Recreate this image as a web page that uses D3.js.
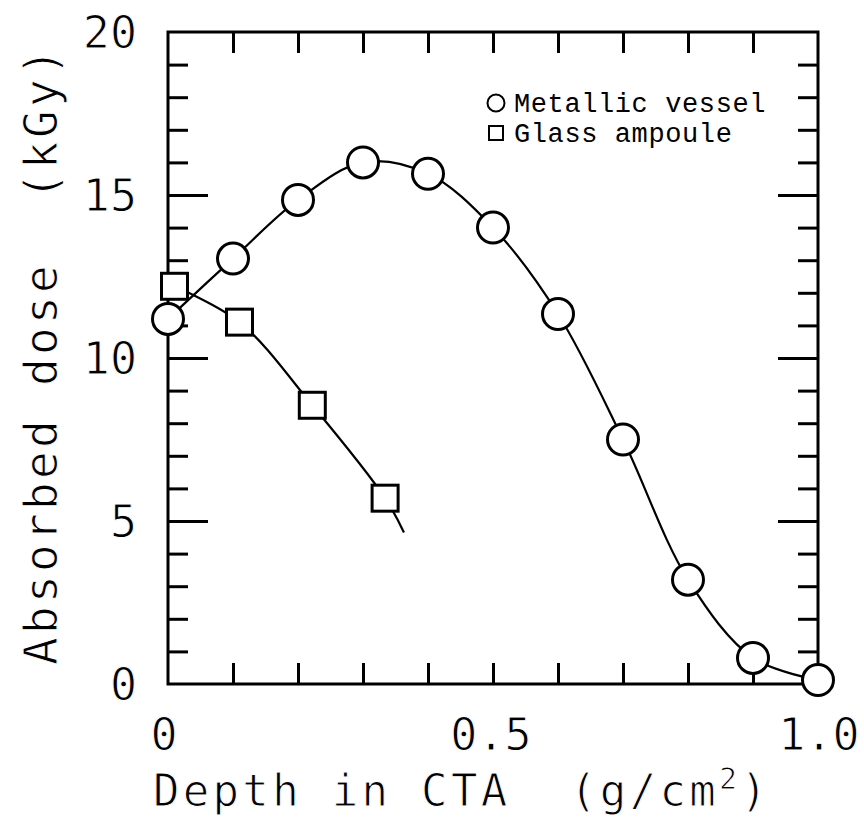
<!DOCTYPE html>
<html><head><meta charset="utf-8">
<script src="https://cdn.jsdelivr.net/npm/d3@7"></script>
<style>body{margin:0;background:#fff;}svg{display:block;}</style>
</head><body>
<svg id="chart" width="864" height="826"></svg>
<script>
// ---- data ----
const metalDepth = [0, 0.1, 0.2, 0.3, 0.4, 0.5, 0.6, 0.7, 0.8, 0.9, 1.0];
const metalDose  = [11.2, 13.05, 14.85, 16.0, 15.65, 14.0, 11.35, 7.5, 3.2, 0.8, 0.12];
const glassDepth = [0.01, 0.11, 0.222, 0.334];
const glassDose  = [12.2, 11.1, 8.55, 5.7];
// fitted curve for the glass ampoule extends slightly beyond the last point
const glassCurveDepth = [0.01, 0.11, 0.222, 0.334, 0.363];
const glassCurveDose  = [12.2, 11.1, 8.55, 5.7, 4.65];
const xTickLabels = [{v:0, t:"0"}, {v:0.5, t:"0.5"}, {v:1.0, t:"1.0"}];
const yTickLabels = [0, 5, 10, 15, 20];
const legendItems = ["Metallic vessel", "Glass ampoule"];

const svg = d3.select("#chart");
const L = 168, R = 818, T = 32, B = 684;
const x = d3.scaleLinear().domain([0, 1]).range([L, R]);
const y = d3.scaleLinear().domain([0, 20]).range([B, T]);

const mono = "'DejaVu Sans Mono', monospace";
const axW = 3;
const thin = sel => sel.attr("stroke", "#fff").attr("stroke-width", 1.0).attr("paint-order", "normal");

// ticks
const minorX = d3.range(1, 10).map(i => i / 10);
const minorY = d3.range(1, 20).filter(v => v % 5 !== 0);
const majorY = [5, 10, 15];

function styleAxis(g){
  g.select(".domain").remove();
  g.selectAll(".tick text").remove();
  g.selectAll(".tick line").attr("stroke", "#000").attr("stroke-width", axW);
}
svg.append("g").attr("transform", `translate(0,${B})`)
  .call(d3.axisBottom(x).tickValues(minorX).tickSize(-21)).call(styleAxis);
svg.append("g").attr("transform", `translate(0,${T})`)
  .call(d3.axisTop(x).tickValues(minorX).tickSize(-21)).call(styleAxis);
svg.append("g").attr("transform", `translate(${L},0)`)
  .call(d3.axisLeft(y).tickValues(minorY).tickSize(-20)).call(styleAxis);
svg.append("g").attr("transform", `translate(${L},0)`)
  .call(d3.axisLeft(y).tickValues(majorY).tickSize(-40)).call(styleAxis);
svg.append("g").attr("transform", `translate(${R},0)`)
  .call(d3.axisRight(y).tickValues(minorY).tickSize(-20)).call(styleAxis);
svg.append("g").attr("transform", `translate(${R},0)`)
  .call(d3.axisRight(y).tickValues(majorY).tickSize(-40)).call(styleAxis);

// frame
svg.append("rect").attr("x", L).attr("y", T).attr("width", R - L).attr("height", B - T)
  .attr("fill", "none").attr("stroke", "#000").attr("stroke-width", axW);

// tick labels
svg.append("g").selectAll("text").data(yTickLabels).join("text")
  .attr("x", 137).attr("y", d => y(d)).attr("dy", "0.36em")
  .attr("text-anchor", "end").attr("font-family", mono).attr("font-size", 45)
  .call(thin)
  .text(d => d);
svg.append("g").selectAll("text").data(xTickLabels).join("text")
  .attr("x", d => x(d.v) - (d.v === 0 ? 4 : (d.v === 1 ? -1 : 2))).attr("y", 750)
  .attr("text-anchor", "middle").attr("font-family", mono).attr("font-size", 45)
  .call(thin)
  .text(d => d.t);

// axis titles
const xt = svg.append("text").attr("x", 153).attr("y", 806)
  .attr("font-family", mono).attr("font-size", 44).attr("letter-spacing", 3.3)
  .attr("xml:space", "preserve").call(thin);
xt.append("tspan").text("Depth in CTA  (g/cm");
xt.append("tspan").attr("font-size", 30).attr("dy", -17).text("2");
xt.append("tspan").attr("dy", 17).text(")");

svg.append("text").attr("transform", "translate(57,355) rotate(-90)")
  .attr("text-anchor", "middle").attr("font-family", mono).attr("font-size", 46)
  .attr("letter-spacing", 3.3).attr("xml:space", "preserve").call(thin)
  .text("Absorbed dose  (kGy)");

// curves
const line = d3.line().x(d => x(d[0])).y(d => y(d[1])).curve(d3.curveCatmullRom.alpha(0.5));
svg.append("path").datum(d3.zip(metalDepth, metalDose)).attr("d", line)
  .attr("fill", "none").attr("stroke", "#000").attr("stroke-width", 2.2);
svg.append("path").datum(d3.zip(glassCurveDepth, glassCurveDose)).attr("d", line)
  .attr("fill", "none").attr("stroke", "#000").attr("stroke-width", 2.2);

// markers
svg.append("g").selectAll("rect").data(d3.zip(glassDepth, glassDose)).join("rect")
  .attr("x", d => x(d[0]) - 13).attr("y", d => y(d[1]) - 13)
  .attr("width", 26).attr("height", 26)
  .attr("fill", "#fff").attr("stroke", "#000").attr("stroke-width", 3);
svg.append("g").selectAll("circle").data(d3.zip(metalDepth, metalDose)).join("circle")
  .attr("cx", d => x(d[0])).attr("cy", d => y(d[1])).attr("r", 15.5)
  .attr("fill", "#fff").attr("stroke", "#000").attr("stroke-width", 3);

// legend
const lg = svg.append("g");
lg.append("circle").attr("cx", 496).attr("cy", 103).attr("r", 8.5)
  .attr("fill", "none").attr("stroke", "#000").attr("stroke-width", 2);
lg.append("rect").attr("x", 489).attr("y", 126).attr("width", 14).attr("height", 14)
  .attr("fill", "none").attr("stroke", "#000").attr("stroke-width", 2);
lg.selectAll("text").data(legendItems).join("text")
  .attr("x", 514).attr("y", (d, i) => 112 + i * 30)
  .attr("font-family", "'Liberation Mono', 'Courier New', monospace")
  .attr("font-size", 27).attr("letter-spacing", 0.6)
  .text(d => d);
</script>
</body></html>
